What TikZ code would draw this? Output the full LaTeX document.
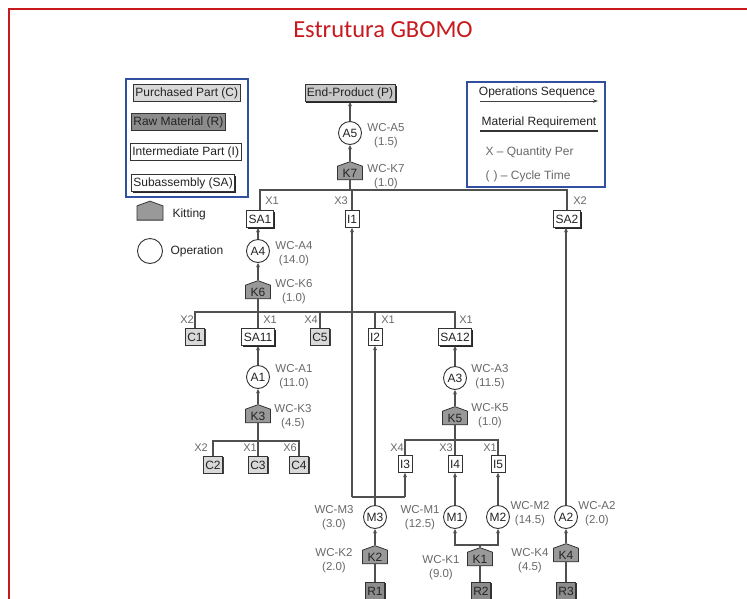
\documentclass[tikz,border=0pt]{standalone}
\usepackage{fontspec}
\setmainfont{Liberation Sans}
\newfontfamily\titlefont{Carlito}
\usetikzlibrary{arrows.meta,shapes.symbols,shadows}

\definecolor{framered}{RGB}{200,25,30}
\definecolor{legblue}{RGB}{50,80,160}
\definecolor{linec}{RGB}{80,80,80}
\definecolor{labc}{RGB}{105,105,105}
\definecolor{boxtxt}{RGB}{35,35,35}

\tikzset{
  every node/.style={font=\fontsize{12}{14}\selectfont, text=boxtxt},
  boxbase/.style={rectangle, draw=black!80, line width=0.8pt, inner xsep=2pt,
    inner ysep=1pt, minimum height=17pt},
  cpart/.style={boxbase, fill=black!15,
    general shadow={shadow xshift=0.9pt, shadow yshift=-0.9pt, fill=black!75}},
  rawpart/.style={boxbase, fill=black!45,
    general shadow={shadow xshift=0.9pt, shadow yshift=-0.9pt, fill=black!80}},
  ipart/.style={boxbase, fill=white, line width=0.7pt},
  sapart/.style={boxbase, fill=white,
    general shadow={shadow xshift=1.3pt, shadow yshift=-1.3pt, fill=black!85}},
  prodbox/.style={boxbase, fill=black!22,
    general shadow={shadow xshift=1.5pt, shadow yshift=-1.5pt, fill=black!85}},
  kit/.style={signal, signal to=north, signal pointer angle=140, draw=black!80,
    line width=0.8pt, fill=black!40, minimum width=25pt, minimum height=17pt,
    inner xsep=2pt, inner ysep=1pt},
  oper/.style={circle, draw=black!80, line width=0.9pt, fill=white,
    minimum size=23pt, inner sep=0pt},
  wc/.style={text=labc, align=center, font=\fontsize{11.5}{14}\selectfont},
  qty/.style={text=labc, font=\fontsize{11}{12}\selectfont},
  seq/.style={draw=linec, line width=1.1pt, -{Stealth[length=4.5pt,width=4pt]}},
  mat/.style={draw=linec, line width=1.1pt},
  legframe/.style={draw=legblue, line width=1.3pt},
}

\begin{document}
\begin{tikzpicture}[x=1pt, y=-1pt]
\useasboundingbox (0,0) rectangle (747,598);
\fill[white] (0,0) rectangle (747,598);

% outer frame and heading
\draw[framered, line width=2.4pt] (9,603) -- (9,9) -- (752,9);
\node[font=\titlefont\fontsize{24.5}{28}\selectfont, text=framered] (title) at (383,30) {Estrutura GBOMO};

% key: part types and symbols
\draw[legframe] (126,79) rectangle (248,197);
\node[cpart, anchor=west] (keyC) at (133,93) {Purchased Part (C)};
\node[rawpart, anchor=west] (keyR) at (131,122) {Raw Material (R)};
\node[ipart, anchor=west] (keyI) at (130,152) {Intermediate Part (I)};
\node[sapart, anchor=west] (keySA) at (131,183) {Subassembly (SA)};
\node[kit, minimum width=26pt, minimum height=15pt] (keyK) at (150,213) {};
\node[anchor=west] (keyKt) at (169,214) {Kitting};
\node[oper, minimum size=25pt] (keyO) at (150,251) {};
\node[anchor=west] (keyOt) at (167,251) {Operation};

% key: line types
\draw[legframe] (467,82) rectangle (605,187);
\node (keySeq) at (537,92) {Operations Sequence};
\coordinate (seqA) at (480,101);
\coordinate (seqB) at (598,101);
\draw[draw=black!75, line width=1pt, -{Stealth[length=5pt,width=3.5pt]}] (seqA) -- (seqB);
\node (keyMat) at (539,122) {Material Requirement};
\coordinate (matA) at (480,131);
\coordinate (matB) at (598,131);
\draw[draw=black!80, line width=1.8pt] (matA) -- (matB);
\node[anchor=west, text=labc] (keyX) at (482,152) {X -- Quantity Per};
\node[anchor=west, text=labc] (keyT) at (482,176) {(\,\,) -- Cycle Time};

% level 0
\node[prodbox] (P) at (350,93) {End-Product (P)};
\node[oper] (A5) at (350,133) {A5};
\node[kit] (K7) at (350,173) {K7};
\node[wc] at (386,136) {WC-A5\\(1.5)};
\node[wc] at (386,177) {WC-K7\\(1.0)};

% level 1
\node[sapart] (SA1) at (260,219) {SA1};
\node[ipart] (I1) at (352,219) {I1};
\node[sapart] (SA2) at (567,219) {SA2};
\coordinate (b7) at (350,190);
\node[qty] at (272,201) {X1};
\node[qty] at (341,201) {X3};
\node[qty] at (580,201) {X2};

% branch under SA1
\node[oper] (A4) at (258,251) {A4};
\node[kit] (K6) at (258,292) {K6};
\node[wc] at (294,254) {WC-A4\\(14.0)};
\node[wc] at (294,292) {WC-K6\\(1.0)};
\coordinate (b6) at (258,312);
\node[cpart] (C1) at (195,337) {C1};
\node[sapart] (SA11) at (258,337) {SA11};
\node[cpart] (C5) at (320,337) {C5};
\node[ipart] (I2) at (375,337) {I2};
\node[sapart] (SA12) at (455,337) {SA12};
\node[qty] at (187,320) {X2};
\node[qty] at (270,320) {X1};
\node[qty] at (311,320) {X4};
\node[qty] at (388,320) {X1};
\node[qty] at (466,320) {X1};

% branch under SA11
\node[oper] (A1) at (258,377) {A1};
\node[kit] (K3) at (258,416) {K3};
\node[wc] at (294,377) {WC-A1\\(11.0)};
\node[wc] at (293,417) {WC-K3\\(4.5)};
\coordinate (b3) at (258,441);
\node[cpart] (C2) at (213,465) {C2};
\node[cpart] (C3) at (258,465) {C3};
\node[cpart] (C4) at (299,465) {C4};
\node[qty] at (201,448) {X2};
\node[qty] at (250,448) {X1};
\node[qty] at (290,448) {X6};

% branch under SA12
\node[oper] (A3) at (455,378) {A3};
\node[kit] (K5) at (455,418) {K5};
\node[wc] at (490,377) {WC-A3\\(11.5)};
\node[wc] at (490,416) {WC-K5\\(1.0)};
\coordinate (b5) at (455,440);
\node[ipart] (I3) at (405,464) {I3};
\node[ipart] (I4) at (455,464) {I4};
\node[ipart] (I5) at (498,464) {I5};
\node[qty] at (397,448) {X4};
\node[qty] at (446,448) {X3};
\node[qty] at (490,448) {X1};

% machining and kitting of raw material
\node[oper] (M3) at (375,517) {M3};
\node[oper] (M1) at (455,517) {M1};
\node[oper] (M2) at (498,517) {M2};
\node[oper] (A2) at (566,517) {A2};
\node[wc] at (334,518) {WC-M3\\(3.0)};
\node[wc] at (420,518) {WC-M1\\(12.5)};
\node[wc] at (530,514) {WC-M2\\(14.5)};
\node[wc] at (597,514) {WC-A2\\(2.0)};
\node[kit] (K2) at (375,557) {K2};
\node[kit] (K1) at (480,559) {K1};
\node[kit] (K4) at (566,555) {K4};
\node[wc] at (334,561) {WC-K2\\(2.0)};
\node[wc] at (441,568) {WC-K1\\(9.0)};
\node[wc] at (530,561) {WC-K4\\(4.5)};
\node[rawpart] (R1) at (375,591) {R1};
\node[rawpart] (R2) at (481,591) {R2};
\node[rawpart] (R3) at (566,591) {R3};
\coordinate (j1) at (480,545);
\coordinate (jI3) at (405,497);
\coordinate (jI1) at (352,497);

% material requirement lines
\draw[mat] (K7.south) -- (b7);
\draw[mat] (SA1.north) |- (b7) -| (SA2.north);
\draw[mat] (I1.north) -- (I1.north |- b7);
\draw[mat] (K6.south) -- (b6);
\draw[mat] (C1.north) |- (b6) -| (SA12.north);
\draw[mat] (SA11.north) -- (b6);
\draw[mat] (C5.north) -- (C5.north |- b6);
\draw[mat] (I2.north) -- (I2.north |- b6);
\draw[mat] (K3.south) -- (b3);
\draw[mat] (C2.north) |- (b3) -| (C4.north);
\draw[mat] (C3.north) -- (b3);
\draw[mat] (K5.south) -- (b5);
\draw[mat] (I3.north) |- (b5) -| (I5.north);
\draw[mat] (I4.north) -- (I4.north |- b5);
\draw[mat] (R1.north) -- (K2.south);
\draw[mat] (R2.north -| K1.south) -- (K1.south);
\draw[mat] (R3.north) -- (K4.south);

% operation sequences
\draw[seq] (A5.north) -- (P.south);
\draw[seq] (K7.north) -- (A5.south);
\draw[seq] (A4.north) -- (A4.north |- SA1.south);
\draw[seq] (K6.north) -- (A4.south);
\draw[seq] (A1.north) -- (SA11.south);
\draw[seq] (K3.north) -- (A1.south);
\draw[seq] (A3.north) -- (SA12.south);
\draw[seq] (K5.north) -- (A3.south);
\draw[seq] (M3.north) -- (I2.south);
\draw[seq] (jI1) -- (I1.south);
\draw[mat] (jI1) -- (jI3);
\draw[seq] (jI3) -- (I3.south);
\draw[seq] (M1.north) -- (I4.south);
\draw[seq] (M2.north) -- (I5.south);
\draw[seq] (A2.north) -- (A2.north |- SA2.south);
\draw[seq] (K2.north) -- (M3.south);
\draw[mat] (K1.north) -- (j1);
\draw[seq] (j1) -| (M1.south);
\draw[seq] (j1) -| (M2.south);
\draw[seq] (K4.north) -- (A2.south);
\end{tikzpicture}
\end{document}
